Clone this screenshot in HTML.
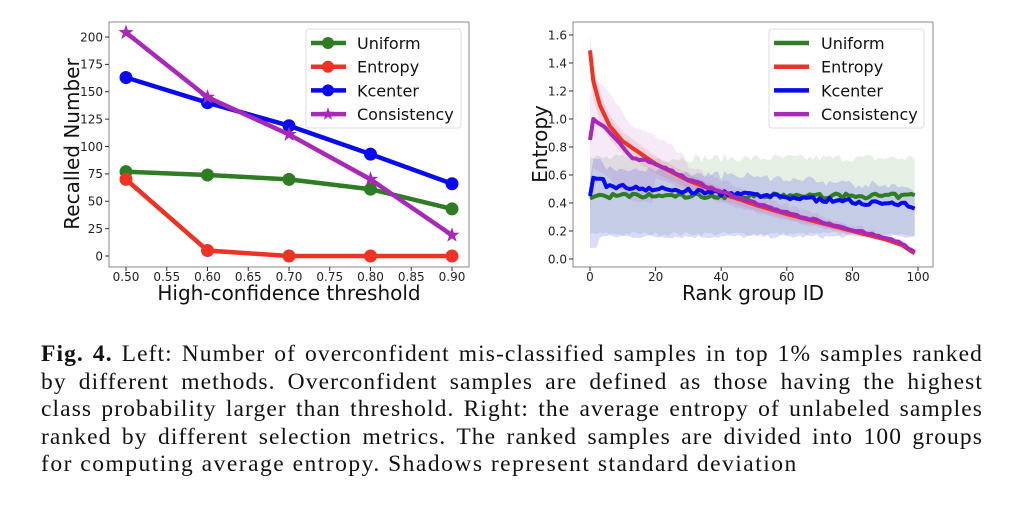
<!DOCTYPE html>
<html><head><meta charset="utf-8"><style>
body{margin:0;background:#fff;width:1024px;height:509px;overflow:hidden;position:relative}
svg{position:absolute;left:0;top:0}
.t{font-family:"DejaVu Sans",sans-serif;font-size:12px;fill:#222}
.l{font-family:"DejaVu Sans",sans-serif;font-size:16px;fill:#111}
.a{font-family:"DejaVu Sans",sans-serif;font-size:20px;fill:#111}
#cap{position:absolute;left:41px;top:341px;width:942px;font-family:"Liberation Serif",serif;font-size:23.5px;letter-spacing:1.1px;line-height:27.5px;color:#111}
#cap div{text-align:justify;text-align-last:justify;white-space:nowrap}
#cap div.last{text-align-last:left;letter-spacing:1.5px}
</style></head><body>
<svg id="s" width="1024" height="509" xmlns="http://www.w3.org/2000/svg"></svg>
<div id="cap">
<div><b>Fig. 4.</b> Left: Number of overconfident mis-classified samples in top 1% samples ranked</div>
<div>by different methods. Overconfident samples are defined as those having the highest</div>
<div>class probability larger than threshold. Right: the average entropy of unlabeled samples</div>
<div>ranked by different selection metrics. The ranked samples are divided into 100 groups</div>
<div class="last">for computing average entropy. Shadows represent standard deviation</div>
</div>
<script>
const s=document.getElementById('s');let h='';
const G='#2e7d23',R='#ee3224',B='#0a0af0',P='#a829b8';
h+='<rect x="109" y="22" width="360" height="245" fill="none" stroke="#888" stroke-width="1"/>';
const lx=i=>126+i*81.5, ly=v=>256-v*219/200;
['0.50','0.55','0.60','0.65','0.70','0.75','0.80','0.85','0.90'].forEach((t,i)=>{let x=126+i*40.75;h+=`<line x1="${x}" y1="267" x2="${x}" y2="271" stroke="#333"/><text class="t" x="${x}" y="281" text-anchor="middle">${t}</text>`});
for(let v=0;v<=200;v+=25){let y=ly(v);h+=`<line x1="105" y1="${y}" x2="109" y2="${y}" stroke="#333"/><text class="t" x="103" y="${y+4.3}" text-anchor="end">${v}</text>`}
h+='<text class="a" x="289" y="300" text-anchor="middle">High-confidence threshold</text>';
h+='<text class="a" transform="translate(79,144) rotate(-90)" text-anchor="middle">Recalled Number</text>';
const star=(cx,cy,r,c)=>{let p=[];for(let k=0;k<10;k++){let a=-Math.PI/2+k*Math.PI/5,rr=k%2?r*0.4:r;p.push((cx+rr*Math.cos(a)).toFixed(1)+','+(cy+rr*Math.sin(a)).toFixed(1))}return `<polygon points="${p.join(' ')}" fill="${c}"/>`};
const ser=(d,c,m)=>{let pts=d.map((v,i)=>lx(i)+','+ly(v)).join(' ');h+=`<polyline points="${pts}" fill="none" stroke="${c}" stroke-width="4.5"/>`;d.forEach((v,i)=>{h+=m?star(lx(i),ly(v),8,c):`<circle cx="${lx(i)}" cy="${ly(v)}" r="6.5" fill="${c}"/>`})};
ser([77,74,70,61,43],G);ser([70,5,0,0,0],R);ser([163,140,119,93,66],B);ser([204,145,111,70,19],P,1);
h+='<rect x="306" y="29" width="155" height="99" rx="3" fill="#fff" fill-opacity="0.85" stroke="#ddd"/>';
[['Uniform',G],['Entropy',R],['Kcenter',B],['Consistency',P]].forEach((e,i)=>{let y=43+i*23.7;h+=`<line x1="311" y1="${y}" x2="346" y2="${y}" stroke="${e[1]}" stroke-width="4.5"/>`+(i==3?star(328,y,7,e[1]):`<circle cx="328" cy="${y}" r="6" fill="${e[1]}"/>`)+`<text class="l" x="357" y="${y+6}">${e[0]}</text>`});
const rx=i=>590+i*3.28, ry=v=>259-v*140;
let seed=7;const rnd=()=>{seed=(seed*16807)%2147483647;return seed/2147483647-0.5};
const interp=(k,i)=>{for(let j=0;j<k.length-1;j++)if(i>=k[j][0]&&i<=k[j+1][0])return k[j][1]+(k[j+1][1]-k[j][1])*(i-k[j][0])/(k[j+1][0]-k[j][0]);return k[k.length-1][1]};
const EK=[[0,1.49],[1,1.27],[3,1.1],[6,0.95],[10,0.84],[20,0.68],[30,0.56],[40,0.47],[50,0.39],[60,0.32],[70,0.26],[80,0.2],[90,0.14],[95,0.1],[99,0.04]];
const CK=[[0,0.85],[1,1.0],[4,0.95],[8,0.85],[13,0.72],[16,0.71],[20,0.68],[30,0.57],[40,0.48],[50,0.40],[60,0.33],[70,0.27],[80,0.21],[90,0.15],[95,0.11],[99,0.05]];
let ent=[],con=[],kc=[],un=[];
for(let i=0;i<100;i++){
 ent.push(interp(EK,i));
 con.push(interp(CK,i)+(i>1&&i<98?rnd()*0.015:0));
 let k=i==0?0.45:(i<5?0.565:0.53-0.15*i/100)+rnd()*0.035; if(i==99)k=0.36; kc.push(k);
 un.push(0.45+rnd()*0.035);
}
const band=(lo,hi,c,o)=>{let p=[];for(let i=0;i<100;i++)p.push(rx(i)+','+ry(hi[i]));for(let i=99;i>=0;i--)p.push(rx(i)+','+ry(lo[i]));h+=`<polygon points="${p.join(' ')}" fill="${c}" fill-opacity="${o}"/>`};
band(un.map(v=>0.18+rnd()*0.03),un.map(v=>0.72+rnd()*0.06),G,0.12);
band(kc.map((v,i)=>i<3?0.08:0.16+rnd()*0.03),kc.map((v,i)=>v+0.13+rnd()*0.04),B,0.15);
band(ent.map(v=>v*0.9),ent.map(v=>v*1.08),R,0.12);
band(con.map((v,i)=>Math.max(v-(i<20?0.35:0.12)*(1-i/110),0.02)),con.map((v,i)=>v+(i<30?0.3*(1-i/60):0.12*(1-i/110))+rnd()*0.03),P,0.1);
const line=(d,c)=>{h+=`<polyline points="${d.map((v,i)=>rx(i).toFixed(1)+','+ry(v).toFixed(1)).join(' ')}" fill="none" stroke="${c}" stroke-width="4" stroke-linejoin="round"/>`};
line(un,G);line(ent,R);line(kc,B);line(con,P);
h+='<rect x="573" y="22" width="360" height="245" fill="none" stroke="#888" stroke-width="1"/>';
[0,20,40,60,80,100].forEach(v=>{let x=590+v*3.28;h+=`<line x1="${x}" y1="267" x2="${x}" y2="271" stroke="#333"/><text class="t" x="${x}" y="281" text-anchor="middle">${v}</text>`});
for(let k=0;k<=8;k++){let v=k*0.2,y=ry(v);h+=`<line x1="569" y1="${y}" x2="573" y2="${y}" stroke="#333"/><text class="t" x="567" y="${y+4.3}" text-anchor="end">${v.toFixed(1)}</text>`}
h+='<text class="a" x="753" y="300" text-anchor="middle">Rank group ID</text>';
h+='<text class="a" transform="translate(547,144) rotate(-90)" text-anchor="middle">Entropy</text>';
h+='<rect x="769" y="29" width="155" height="99" rx="3" fill="#fff" fill-opacity="0.85" stroke="#ddd"/>';
[['Uniform',G],['Entropy',R],['Kcenter',B],['Consistency',P]].forEach((e,i)=>{let y=43+i*23.7;h+=`<line x1="774" y1="${y}" x2="809" y2="${y}" stroke="${e[1]}" stroke-width="4.5"/><text class="l" x="821" y="${y+6}">${e[0]}</text>`});
s.innerHTML=h;
</script>
</body></html>
